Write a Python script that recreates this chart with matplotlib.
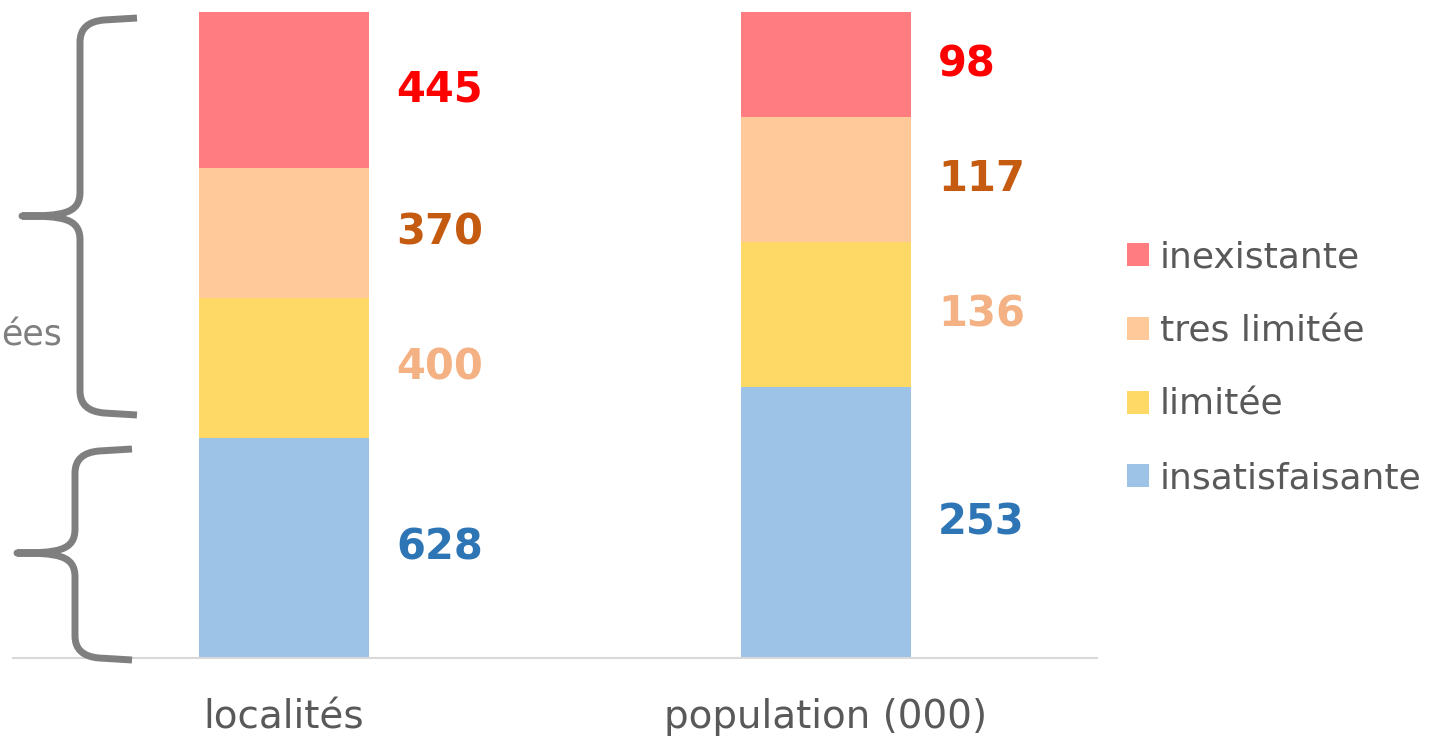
import numpy as np
import matplotlib.pyplot as plt
from matplotlib.path import Path
from matplotlib.patches import PathPatch

# Données
categories = ["localités", "population (000)"]
series = ["insatisfaisante", "limitée", "tres limitée", "inexistante"]
insatisfaisante = [628, 253]
limitee = [400, 136]
tres_limitee = [370, 117]
inexistante = [445, 98]

bar_colors = ["#9DC3E6", "#FFD966", "#FFC999", "#FF7C80"]
label_colors = ["#2E75B6", "#F4B183", "#C55A11", "#FF0000"]

values = np.array([insatisfaisante, limitee, tres_limitee, inexistante], dtype=float)
shares = values / values.sum(axis=0)

fig = plt.figure(figsize=(14.44, 7.39), dpi=100)
ax = fig.add_axes([13 / 1444, 81 / 739, 1084 / 1444, 646 / 739])

x = np.arange(len(categories))
width = 0.314
bottom = np.zeros(len(categories))
for i, name in enumerate(series):
    ax.bar(x, shares[i], width, bottom=bottom, color=bar_colors[i], label=name)
    for j in range(len(categories)):
        ax.text(x[j] + width / 2 + 0.05, bottom[j] + shares[i][j] / 2,
                f"{int(values[i][j])}", color=label_colors[i], fontsize=30,
                fontweight="bold", ha="left", va="center")
    bottom += shares[i]

ax.set_xlim(-0.5, 1.5)
ax.set_ylim(0, 1)
ax.set_xticks(x)
ax.set_xticklabels(categories, fontsize=28, color="#595959")
ax.tick_params(axis="x", length=0, pad=29)
ax.set_yticks([])
for s in ["top", "right", "left"]:
    ax.spines[s].set_visible(False)
ax.spines["bottom"].set_color("#D9D9D9")
ax.spines["bottom"].set_linewidth(1.5)

handles, labels = ax.get_legend_handles_labels()
fig.legend(handles[::-1], labels[::-1], loc="center left",
           bbox_to_anchor=(1127 / 1444, 1 - 368 / 739), frameon=False,
           fontsize=26, labelcolor="#595959", handlelength=0.6,
           handleheight=0.6, handletextpad=0.3, labelspacing=1.1,
           borderpad=0, borderaxespad=0)

# accolades à gauche (décor, en pixels)
deco = fig.add_axes([0, 0, 1, 1], zorder=5)
deco.set_xlim(0, 1444)
deco.set_ylim(739, 0)
deco.axis("off")


def brace(xe, xv, xt, yt, ym, yb):
    r = 24
    verts = [(xe, yt), (xv + r, yt + 2), (xv, yt + 4), (xv, yt + r),
             (xv, ym - r), (xv, ym - 2), (xt + 40, ym), (xt, ym),
             (xt + 40, ym), (xv, ym + 2), (xv, ym + r),
             (xv, yb - r), (xv, yb - 4), (xv + r, yb - 2), (xe, yb)]
    codes = [Path.MOVETO, Path.LINETO, Path.CURVE3, Path.CURVE3,
             Path.LINETO, Path.CURVE4, Path.CURVE4, Path.CURVE4,
             Path.CURVE4, Path.CURVE4, Path.CURVE4,
             Path.LINETO, Path.CURVE3, Path.CURVE3, Path.LINETO]
    deco.add_patch(PathPatch(Path(verts, codes), fill=False,
                             edgecolor="#7F7F7F", linewidth=5,
                             capstyle="butt", joinstyle="round"))


brace(137, 80, 22, 18, 216, 415)
brace(132, 75, 17, 449, 553, 660)
deco.text(1, 335, "ées", fontsize=25, color="#7F7F7F", ha="left", va="center")

fig.savefig("out.png", dpi=100)
